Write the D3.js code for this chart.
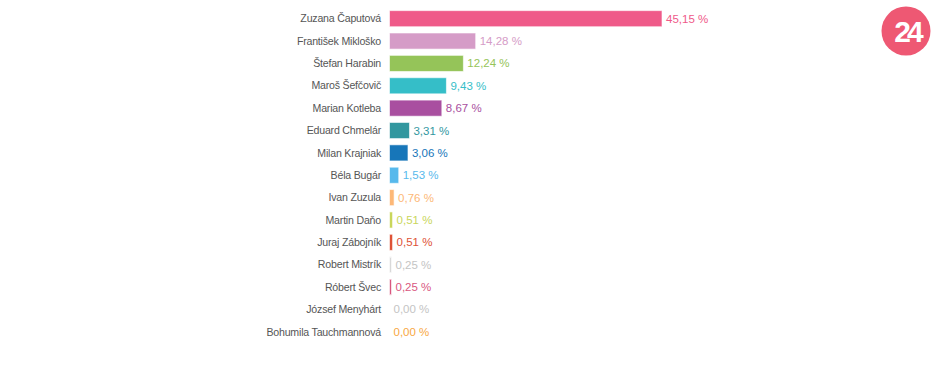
<!DOCTYPE html>
<html>
<head>
<meta charset="utf-8">
<script src="https://cdn.jsdelivr.net/npm/d3@7"></script>
<style>
  body { margin: 0; background: #fff; }
  svg { display: block; font-family: Arial, "Liberation Sans", sans-serif; }
</style>
</head>
<body>
<svg id="chart"></svg>
<script>
// kandidáti a výsledky
const candidates = ["Zuzana Čaputová", "František Mikloško", "Štefan Harabin", "Maroš Šefčovič", "Marian Kotleba",
  "Eduard Chmelár", "Milan Krajniak", "Béla Bugár", "Ivan Zuzula", "Martin Daňo", "Juraj Zábojník",
  "Robert Mistrík", "Róbert Švec", "József Menyhárt", "Bohumila Tauchmannová"];
const values = [45.15, 14.28, 12.24, 9.43, 8.67, 3.31, 3.06, 1.53, 0.76, 0.51, 0.51, 0.25, 0.25, 0.00, 0.00];
const colors = ["#ef5a89", "#d59cc7", "#95c459", "#35bec8", "#a94fa0", "#32979f", "#1776b9", "#57b9ec",
  "#fdb877", "#c9d65b", "#de5236", "#d9d9d9", "#d9577f", "#cfcfcf", "#f8a83f"];

const width = 950, height = 384;
const svg = d3.select("#chart").attr("width", width).attr("height", height);

const x0 = 389.5;
const x = d3.scaleLinear().domain([0, 45.15]).range([0, 272.5]);
const y = d3.scaleBand().domain(candidates).range([7.5, 343]).paddingInner(0.28).paddingOuter(0.14);

const row = svg.selectAll(".row")
  .data(candidates)
  .join("g")
  .attr("class", "row")
  .attr("transform", d => `translate(0,${y(d)})`);

// popisky mien
row.append("text")
  .attr("x", 381)
  .attr("y", y.bandwidth() / 2)
  .attr("dy", "0.35em")
  .attr("text-anchor", "end")
  .attr("font-size", 10.6)
  .attr("letter-spacing", -0.2)
  .attr("fill", "#555")
  .text(d => d);

// stĺpce
row.append("rect")
  .attr("x", x0)
  .attr("y", 0)
  .attr("width", (d, i) => values[i] > 0 ? Math.max(2, x(values[i])) : 0)
  .attr("height", y.bandwidth())
  .attr("fill", (d, i) => colors[i])
  .attr("stroke", "#fff")
  .attr("stroke-opacity", 0.6)
  .attr("stroke-width", 1);

// hodnoty
row.append("text")
  .attr("x", (d, i) => x0 + (values[i] > 0 ? Math.max(2, x(values[i])) : 0) + 4)
  .attr("y", y.bandwidth() / 2)
  .attr("dy", "0.35em")
  .attr("font-size", 11.5)
  .attr("fill", (d, i) => colors[i] === "#d9d9d9" || colors[i] === "#cfcfcf" ? "#c4c4c4" : colors[i])
  .text((d, i) => d3.format(".2f")(values[i]).replace(".", ",") + " %");

// logo
const logo = svg.append("g").attr("transform", "translate(906,31)");
logo.append("circle").attr("r", 24.5).attr("fill", "#ee5873");
logo.append("text")
  .attr("text-anchor", "middle")
  .attr("dy", "0.36em")
  .attr("x", 1)
  .attr("font-size", 30)
  .attr("font-weight", "bold")
  .attr("letter-spacing", -4)
  .attr("fill", "#fff")
  .text("24");
</script>
</body>
</html>
